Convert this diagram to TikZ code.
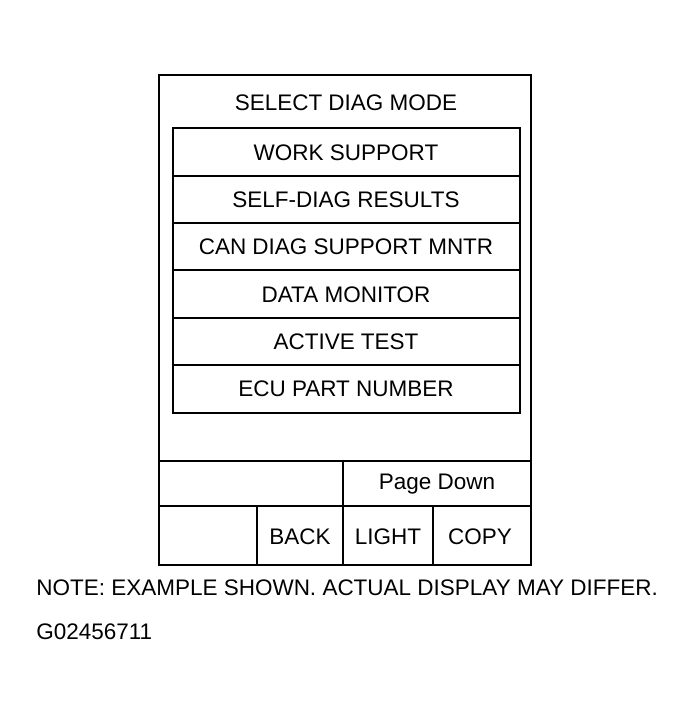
\documentclass[tikz,border=0pt]{standalone}
\usepackage{fontspec}
\setmainfont{Liberation Sans}
\usetikzlibrary{positioning}
\begin{document}
\begin{tikzpicture}[x=0.02cm, y=-0.02cm,
    frame/.style={line width=1.6pt},
    grid/.style={line width=0.7pt},
    lbl/.style={font=\fontsize{12.8}{14}\selectfont, inner sep=0pt}]
  \useasboundingbox (0,0) rectangle (689,714);
  % outer display frame
  \draw[frame] (159,75) rectangle (531,565);
  \node[lbl] (title) at (346,103) {SELECT DIAG MODE};
  % menu list
  \draw[grid] (173,128) rectangle (520,413);
  \foreach \y in {176,223,270,318,365} \draw[grid] (173,\y) -- (520,\y);
  \node[lbl] (ws) at (346,153) {WORK SUPPORT};
  \node[lbl] (sd) at (346,200) {SELF-DIAG RESULTS};
  \node[lbl] (can) at (346,247) {CAN DIAG SUPPORT MNTR};
  \node[lbl] (dm) at (346,295) {DATA MONITOR};
  \node[lbl] (at) at (346,342) {ACTIVE TEST};
  \node[lbl] (ecu) at (346,389) {ECU PART NUMBER};
  % button bar
  \draw[grid] (159,461) -- (531,461);
  \draw[grid] (159,506) -- (531,506);
  \draw[grid] (343,461) -- (343,565);
  \draw[grid] (257,506) -- (257,565);
  \draw[grid] (433,506) -- (433,565);
  \node[lbl] (pd) at (437,484) {Page Down};
  \node[lbl] (back) at (300,537) {BACK};
  \node[lbl] (light) at (388,537) {LIGHT};
  \node[lbl] (copy) at (480,537) {COPY};
  % captions
  \node[lbl, anchor=west] (note) at (36,588) {NOTE: EXAMPLE SHOWN. ACTUAL DISPLAY MAY DIFFER.};
  \node[lbl, anchor=west] (code) at (36,632) {G02456711};
\end{tikzpicture}
\end{document}
